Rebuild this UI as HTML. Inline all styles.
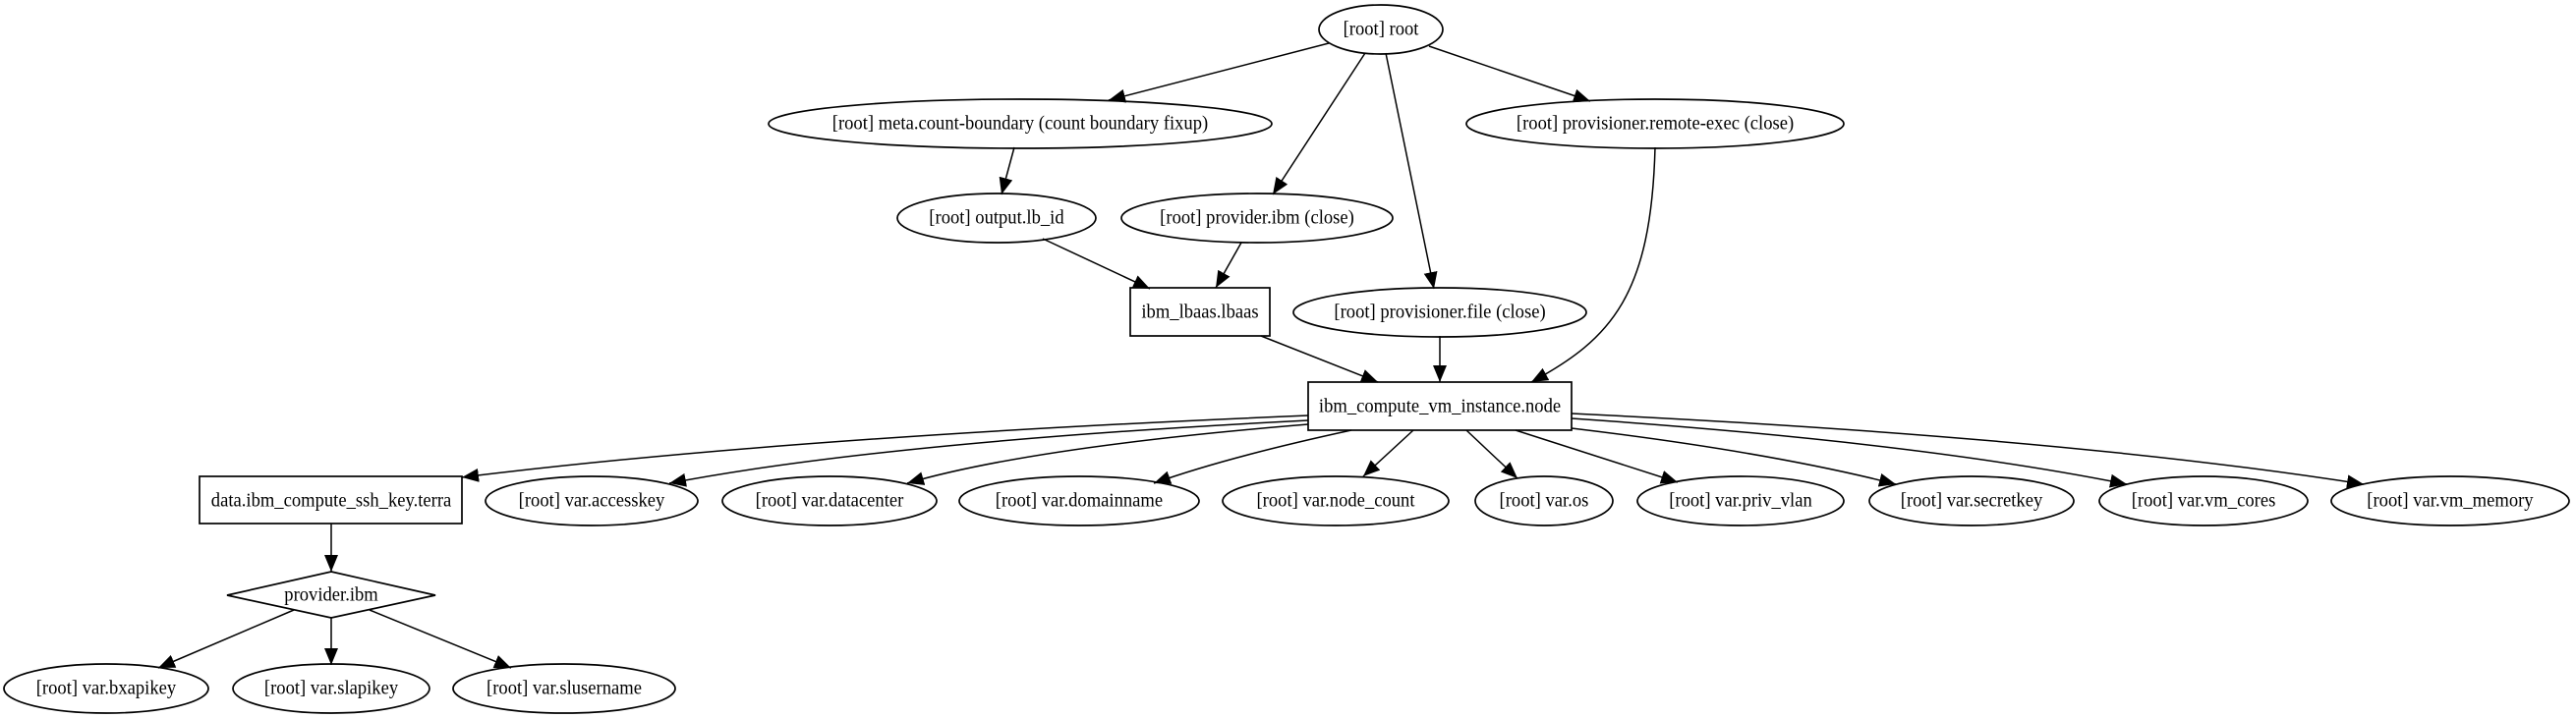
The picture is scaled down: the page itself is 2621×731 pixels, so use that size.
<!DOCTYPE html>
<html><head><meta charset="utf-8"><style>
html,body{margin:0;padding:0;background:#fff;width:2621px;height:731px;overflow:hidden}
text{font-family:"Liberation Serif",serif;font-size:20px;fill:#000;text-anchor:middle;dominant-baseline:central}
</style></head><body>
<svg width="2621" height="731" viewBox="0 0 2621 731" xmlns="http://www.w3.org/2000/svg">
<defs><marker id="a" markerUnits="userSpaceOnUse" markerWidth="18" markerHeight="14" refX="17" refY="7" orient="auto"><path d="M0,0 L17,7 L0,14 Z" fill="#000"/></marker></defs>
<g fill="none" stroke="#000" stroke-width="1.7">
<ellipse cx="1405" cy="30" rx="63" ry="25"/>
<ellipse cx="1038" cy="126" rx="256" ry="25"/>
<ellipse cx="1684" cy="126" rx="192" ry="25"/>
<ellipse cx="1014" cy="222" rx="101" ry="25"/>
<ellipse cx="1279" cy="222" rx="138" ry="25"/>
<rect x="1150" y="293" width="142" height="49"/>
<ellipse cx="1465" cy="318" rx="149" ry="25"/>
<rect x="1331" y="389" width="268" height="49"/>
<rect x="203" y="485" width="267" height="48"/>
<ellipse cx="602" cy="510" rx="108" ry="25"/>
<ellipse cx="844" cy="510" rx="109" ry="25"/>
<ellipse cx="1098" cy="510" rx="122" ry="25"/>
<ellipse cx="1359" cy="510" rx="115" ry="25"/>
<ellipse cx="1571" cy="510" rx="70" ry="25"/>
<ellipse cx="1771" cy="510" rx="105" ry="25"/>
<ellipse cx="2006" cy="510" rx="104" ry="25"/>
<ellipse cx="2242" cy="510" rx="106" ry="25"/>
<ellipse cx="2493" cy="510" rx="121" ry="25"/>
<path d="M337,582 L443,606 L337,629 L231,606 Z"/>
<ellipse cx="108" cy="701" rx="104" ry="25"/>
<ellipse cx="337" cy="701" rx="100" ry="25"/>
<ellipse cx="574" cy="701" rx="113" ry="25"/>
</g>
<g fill="none" stroke="#000" stroke-width="1.5" marker-end="url(#a)">
<path d="M1352,44 L1128,102"/>
<path d="M1389,54 L1295,198"/>
<path d="M1410,54 L1459,294"/>
<path d="M1454,47 L1618,103"/>
<path d="M1032,150 L1019,198"/>
<path d="M1061,243 L1170,294"/>
<path d="M1263,247 L1237,293"/>
<path d="M1283,342 L1402,389"/>
<path d="M1465,342 L1465,389"/>
<path d="M1684,150 C1680,300 1640,345 1558,389"/>
<path d="M337,533 L337,582"/>
<path d="M299,621 L161,680"/>
<path d="M337,629 L337,677"/>
<path d="M376,621 L520,680"/>
<path d="M1331,423 Q800,445 470,486"/>
<path d="M1331,428 Q900,450 681,492"/>
<path d="M1331,432 Q1050,455 923,492"/>
<path d="M1375,438 Q1250,465 1174,492"/>
<path d="M1438,438 L1387,485"/>
<path d="M1492,438 L1544,487"/>
<path d="M1542,438 L1707,491"/>
<path d="M1599,436 Q1800,460 1929,493"/>
<path d="M1599,426 Q1950,450 2164,493"/>
<path d="M1599,421 Q2100,445 2405,493"/>
</g>
<g transform="scale(0.93,1)">
<text x="1510.8" y="30">[root] root</text>
<text x="1116.1" y="126">[root] meta.count-boundary (count boundary fixup)</text>
<text x="1810.8" y="126">[root] provisioner.remote-exec (close)</text>
<text x="1090.3" y="222">[root] output.lb_id</text>
<text x="1375.3" y="222">[root] provider.ibm (close)</text>
<text x="1312.9" y="318">ibm_lbaas.lbaas</text>
<text x="1575.3" y="318">[root] provisioner.file (close)</text>
<text x="1575.3" y="414">ibm_compute_vm_instance.node</text>
<text x="362.4" y="510">data.ibm_compute_ssh_key.terra</text>
<text x="647.3" y="510">[root] var.accesskey</text>
<text x="907.5" y="510">[root] var.datacenter</text>
<text x="1180.6" y="510">[root] var.domainname</text>
<text x="1461.3" y="510">[root] var.node_count</text>
<text x="1689.2" y="510">[root] var.os</text>
<text x="1904.3" y="510">[root] var.priv_vlan</text>
<text x="2157" y="510">[root] var.secretkey</text>
<text x="2410.8" y="510">[root] var.vm_cores</text>
<text x="2680.6" y="510">[root] var.vm_memory</text>
<text x="362.4" y="606">provider.ibm</text>
<text x="116.1" y="701">[root] var.bxapikey</text>
<text x="362.4" y="701">[root] var.slapikey</text>
<text x="617.2" y="701">[root] var.slusername</text>
</g>
</svg>
</body></html>
